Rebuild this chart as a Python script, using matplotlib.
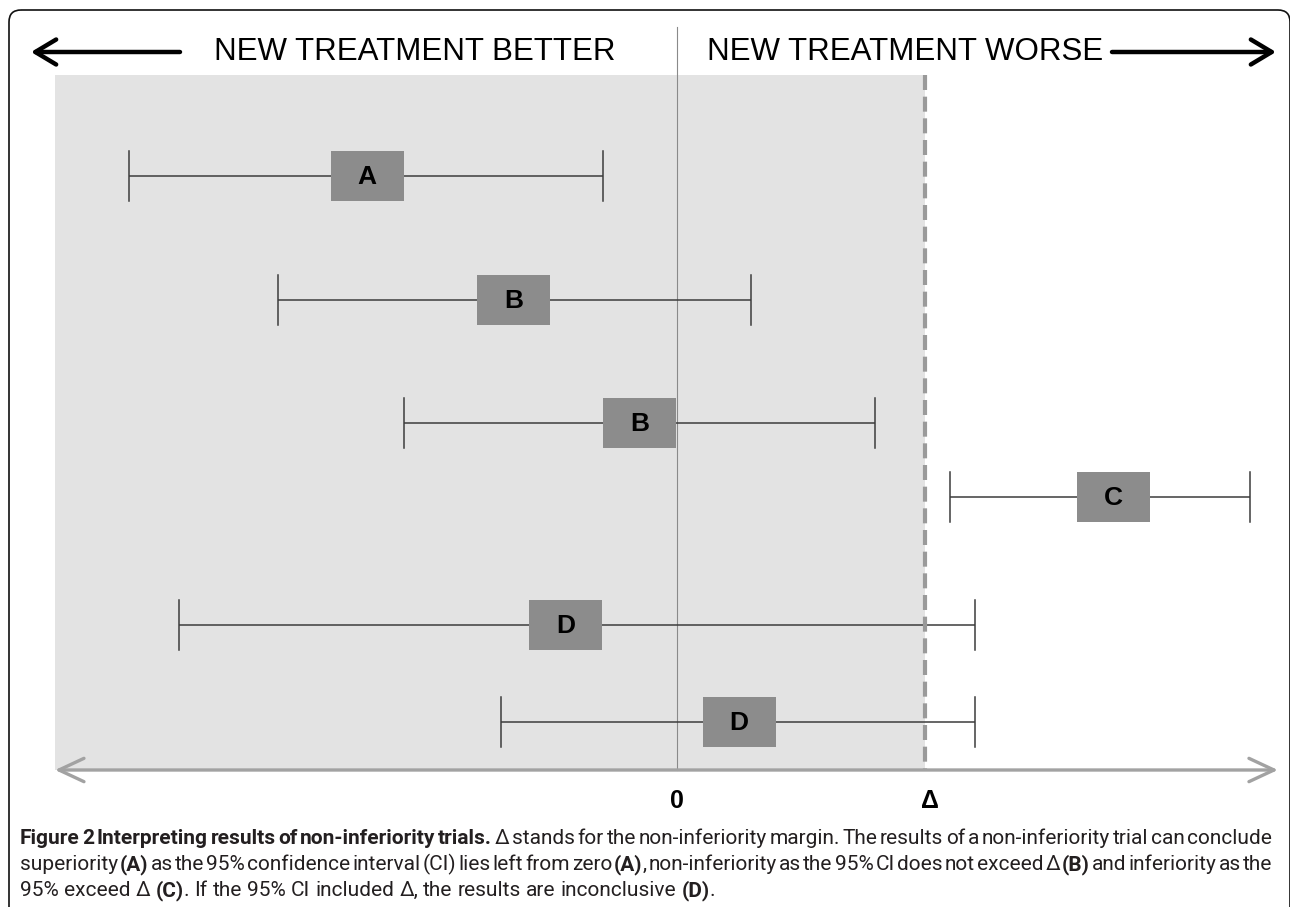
import matplotlib
matplotlib.use('Agg')
import matplotlib.pyplot as plt
from matplotlib.patches import Rectangle, FancyBboxPatch

# ---------------- data ----------------
labels = ['A', 'B', 'B', 'C', 'D', 'D']
estimate = [-1.25, -0.66, -0.15, 1.76, -0.45, 0.25]
ci_low = [-2.21, -1.61, -1.10, 1.10, -2.01, -0.71]
ci_high = [-0.30, 0.30, 0.80, 2.31, 1.20, 1.20]
zero = 0.0
delta = 1.0
axis_range = [-2.508, 2.423]
header_left = 'NEW TREATMENT BETTER'
header_right = 'NEW TREATMENT WORSE'
tick_values = [zero, delta]
tick_labels = ['0', 'Δ']

caption_lines = [
    [("Figure 2 Interpreting results of non-inferiority trials.", True),
     ("Δ stands for the non-inferiority margin. The results of a non-inferiority trial can conclude", False)],
    [("superiority", False), ("(A)", True),
     ("as the 95% confidence interval (CI) lies left from zero", False), ("(A)", True),
     (", non-inferiority as the 95% CI does not exceed Δ", False), ("(B)", True),
     ("and inferiority as the", False)],
    [("95% exceed Δ", False), ("(C)", True), (". If the 95% CI included Δ, the results are inconclusive", False),
     ("(D)", True), (".", False)],
]
caption_justify = [True, True, False]

# ---------------- layout ----------------
W, H = 1290, 907
fig = plt.figure(figsize=(W / 100, H / 100), dpi=100)
lay = fig.add_axes([0, 0, 1, 1])
lay.set_xlim(0, W)
lay.set_ylim(H, 0)
lay.axis('off')

x0px, ppu = 677, 248.0
ax = fig.add_axes([0, 0, 1, 1], facecolor='none')
ax.set_xlim((0 - x0px) / ppu, (W - x0px) / ppu)
ax.set_ylim(H, 0)
ax.axis('off')

row_y = [176, 300, 423, 497, 625, 722]
box_w = 73 / ppu
box_h = 50
cap_h = 50
area_top, axis_y = 75, 770

HFONT = ['Liberation Sans', 'DejaVu Sans']

# frame
lay.add_patch(FancyBboxPatch((9, 10), 1281, 1000,
                             boxstyle='round,pad=0,rounding_size=12',
                             fc='none', ec='#111111', lw=1.2, clip_on=False))

# shaded region
ax.add_patch(Rectangle((axis_range[0], area_top), delta - axis_range[0], axis_y - area_top,
                       fc='#e3e3e3', ec='none', zorder=1))
# zero line
ax.plot([zero, zero], [27, axis_y], color='#8a8a8a', lw=0.8, zorder=2)

# intervals
for lab, e, lo, hi, y in zip(labels, estimate, ci_low, ci_high, row_y):
    ax.plot([lo, hi], [y, y], color='#3c3c3c', lw=1.1, zorder=3, solid_capstyle='butt')
    for v in (lo, hi):
        ax.plot([v, v], [y - cap_h / 2, y + cap_h / 2], color='#3c3c3c', lw=1.1, zorder=3)
    ax.add_patch(Rectangle((e - box_w / 2, y - box_h / 2), box_w, box_h,
                           fc='#8c8c8c', ec='none', zorder=4))
    ax.text(e, y + 1, lab, ha='center', va='center', fontsize=19, fontweight='bold',
            family=HFONT, color='black', zorder=5)

# delta dashed line
ax.plot([delta, delta], [area_top, axis_y], color='#9a9a9a', lw=3.0,
        dashes=(3.6, 1.6), zorder=6, solid_capstyle='butt', dash_capstyle='butt')

# bottom axis double arrow
ax.annotate('', xy=(axis_range[0], axis_y), xytext=(axis_range[1], axis_y),
            arrowprops=dict(arrowstyle='<->,head_length=0.9,head_width=0.42',
                            lw=2.4, color='#a2a2a2', shrinkA=0, shrinkB=0,
                            mutation_scale=20), zorder=7)

for v, t, off in zip(tick_values, tick_labels, [0, 5]):
    ax.annotate(t, xy=(v, 801), xytext=(off * 0.72, 0), textcoords='offset points',
                ha='center', va='center', fontsize=18, fontweight='bold',
                family=HFONT, color='black')

# header
lay.text(415, 52, header_left, ha='center', va='center', fontsize=22.5, family=HFONT, color='black')
lay.text(905, 52, header_right, ha='center', va='center', fontsize=22.5, family=HFONT, color='black')
lay.annotate('', xy=(31, 52), xytext=(180, 52),
             arrowprops=dict(arrowstyle='->,head_length=0.75,head_width=0.45', lw=3.2,
                             color='black', shrinkA=0, shrinkB=0, mutation_scale=20))
lay.annotate('', xy=(1276, 52), xytext=(1112, 52),
             arrowprops=dict(arrowstyle='->,head_length=0.75,head_width=0.45', lw=3.2,
                             color='black', shrinkA=0, shrinkB=0, mutation_scale=20))

# ---------------- caption ----------------
CFONT = ['Roboto', 'DejaVu Sans']
renderer = fig.canvas.get_renderer()


def width_of(s, bold, size):
    t = lay.text(0, 0, s, fontsize=size, family=CFONT, fontweight='bold' if bold else 'normal')
    w = t.get_window_extent(renderer).width
    t.remove()
    return w


def words_of(line):
    words = []
    for seg, bold in line:
        parts = seg.split(' ')
        for i, p in enumerate(parts):
            if p == '':
                continue
            if i == 0 and words and seg[0] in ',.':
                words[-1].append((p, bold))
            else:
                words.append([(p, bold)])
    return words


base = 14
w3 = sum(width_of(s, b, base) for w in words_of(caption_lines[2]) for s, b in w)
n3 = len(words_of(caption_lines[2]))
sp = width_of('a a', False, base) - width_of('aa', False, base)
natural = w3 + sp * (n3 - 1)
csize = base * 698 / natural

left, right = 20, 1272
baselines = [844, 870, 896]
sp = width_of('a a', False, csize) - width_of('aa', False, csize)
for line, just, yb in zip(caption_lines, caption_justify, baselines):
    words = words_of(line)
    ww = [[width_of(s, b, csize) for s, b in w] for w in words]
    total = sum(sum(x) for x in ww)
    gap = (right - left - total) / (len(words) - 1) if just else sp
    x = left
    for w, wl in zip(words, ww):
        for (s, b), wd in zip(w, wl):
            lay.text(x, yb, s, fontsize=csize, family=CFONT, fontweight='bold' if b else 'normal',
                     color='#231f20', ha='left', va='baseline')
            x += wd
        x += gap

fig.savefig('out.png', dpi=100)
